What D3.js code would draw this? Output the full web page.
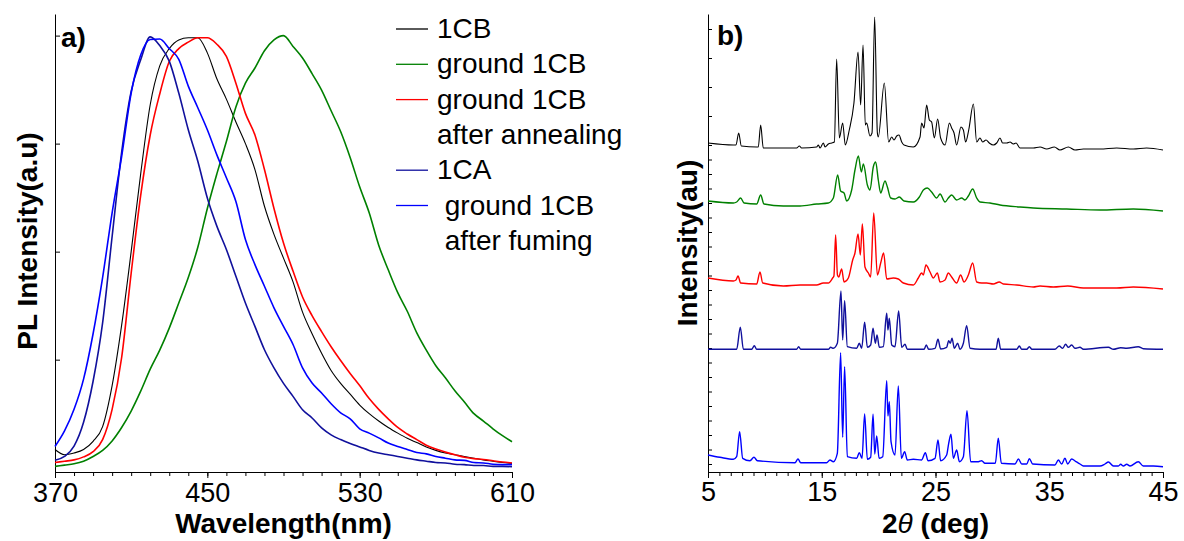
<!DOCTYPE html>
<html>
<head>
<meta charset="utf-8">
<script src="https://cdnjs.cloudflare.com/ajax/libs/d3/7.8.5/d3.min.js"></script>
<style>
  body { margin: 0; background: #fff; }
  text { font-family: "Liberation Sans", Arial, sans-serif; }
</style>
</head>
<body>
<script>
// ---- panel a: PL spectra (normalised) ----
var plWavelength = [370,375,380,385,390,395,400,405,410,415,420,425,430,435,440,445,450,455,460,465,470,475,480,485,490,
                    495,500,505,510,515,520,525,530,535,540,545,550,555,560,565,570,575,580,585,590,595,600,605,610];

var pl1CB     = [0.042,0.030,0.034,0.042,0.061,0.095,0.19,0.33,0.50,0.68,0.84,0.93,0.97,0.99,0.995,0.995,0.96,0.90,0.853,0.80,0.75,0.69,0.605,0.54,0.485,
                 0.43,0.36,0.31,0.265,0.225,0.195,0.17,0.145,0.125,0.108,0.093,0.080,0.068,0.058,0.048,0.040,0.034,0.030,0.026,0.022,0.018,0.015,0.012,0.010];
var plGround  = [0.003,0.006,0.009,0.015,0.026,0.040,0.062,0.093,0.131,0.177,0.228,0.272,0.323,0.381,0.440,0.510,0.600,0.680,0.755,0.835,0.890,0.925,0.965,0.990,1.000,
                 0.975,0.948,0.912,0.874,0.826,0.778,0.718,0.650,0.590,0.515,0.458,0.405,0.362,0.312,0.272,0.236,0.208,0.178,0.152,0.125,0.108,0.090,0.074,0.060];
var plAnneal  = [0.012,0.015,0.018,0.025,0.037,0.065,0.135,0.255,0.45,0.63,0.77,0.865,0.94,0.97,0.985,0.995,0.995,0.98,0.952,0.89,0.82,0.77,0.69,0.60,0.52,
                 0.455,0.395,0.352,0.315,0.28,0.248,0.218,0.19,0.16,0.135,0.113,0.093,0.078,0.065,0.052,0.043,0.036,0.030,0.024,0.021,0.019,0.016,0.013,0.011];
var pl1CA     = [0.017,0.026,0.05,0.105,0.20,0.335,0.535,0.73,0.871,0.944,0.997,0.977,0.941,0.867,0.782,0.709,0.624,0.559,0.505,0.443,0.381,0.327,0.273,0.231,0.195,
                 0.165,0.134,0.115,0.092,0.076,0.065,0.056,0.048,0.040,0.034,0.030,0.026,0.022,0.018,0.015,0.012,0.011,0.008,0.007,0.005,0.005,0.003,0.003,0.002];
var plFumed   = [0.049,0.085,0.135,0.205,0.31,0.44,0.59,0.72,0.867,0.955,0.991,0.992,0.970,0.945,0.883,0.833,0.782,0.724,0.671,0.616,0.528,0.470,0.420,0.370,0.327,
                 0.285,0.231,0.196,0.173,0.148,0.127,0.113,0.09,0.080,0.069,0.057,0.049,0.042,0.035,0.032,0.026,0.022,0.018,0.017,0.012,0.011,0.008,0.007,0.007];

var plSeries  = [pl1CB, plGround, plAnneal, pl1CA, plFumed];
var seriesColors = ["#000000", "#008000", "#ff0000", "#10109c", "#0000ff"];
var legendLabels = [["1CB"], ["ground 1CB"], ["ground 1CB", "after annealing"], ["1CA"], [" ground 1CB", " after fuming"]];
var plMajorTicks = [370, 450, 530, 610];
var plYTicks = [0.25, 0.5, 0.75, 1];

// ---- panel b: XRD patterns, stacked (2theta, intensity au) ----
var xrd1CB = [[5.0,321],[7.23,319],[7.46,319],[7.70,331],[7.93,318],[9.28,317],[9.42,317],[9.63,339],[9.86,316],[12.79,316],[13.03,318],[13.23,316],
  [14.55,317],[14.70,319],[14.85,316],[15.14,321],[15.29,317],[15.58,320],[15.87,321],[16.11,322],[16.31,405],[16.55,326],[16.84,341],[17.07,319],
  [17.42,334],[17.83,361],[18.19,412],[18.42,359],[18.63,419],[18.83,339],[18.95,341],[19.24,328],[19.42,331],[19.65,447],[19.89,331],[19.97,327],
  [20.50,381],[20.88,322],[21.15,327],[21.35,324],[21.59,328],[21.79,329],[22.03,322],[22.23,319],[23.05,317],[23.64,327],[23.78,341],[23.99,336],
  [24.22,359],[24.46,344],[24.66,342],[24.90,326],[25.19,345],[25.45,326],[25.84,319],[26.22,341],[26.42,336],[26.63,331],[26.86,319],[27.24,337],
  [27.45,334],[27.65,322],[27.92,334],[28.33,360],[28.62,322],[28.91,326],[29.15,322],[29.44,324],[29.73,321],[30.08,319],[30.38,321],[30.67,326],
  [30.90,321],[31.26,321],[31.55,322],[31.84,320],[32.08,321],[32.43,316],[33.60,316],[34.19,317],[34.77,315],[35.45,317],[35.94,314],[36.68,317],
  [37.26,314],[38.00,315],[39.46,315],[40.93,316],[42.39,315],[43.56,316],[45.0,314]];

var xrdGround = [[5.0,263],[7.23,261],[7.52,262],[7.87,266],[8.17,261],[9.28,260],[9.63,269],[9.92,260],[11.62,258],[13.09,258],[14.55,260],[15.58,261],
  [16.02,266],[16.40,289],[16.66,273],[16.96,271],[17.19,263],[17.63,274],[17.92,294],[18.22,308],[18.48,292],[18.66,300],[19.01,279],[19.24,274],
  [19.53,297],[19.74,302],[19.97,284],[20.18,271],[20.56,283],[20.77,277],[21.06,266],[21.44,265],[21.82,267],[22.23,263],[23.05,262],[23.58,267],
  [23.93,274],[24.28,276],[24.66,272],[25.10,266],[25.40,270],[25.84,262],[26.13,266],[26.42,269],[26.86,264],[27.30,266],[27.59,264],[27.89,268],
  [28.27,275],[28.62,266],[28.91,262],[29.79,261],[30.67,259],[32.43,257],[33.60,256],[36.53,255],[39.46,254],[42.39,255],[45.0,253]];

var xrdAnneal = [[5.0,186],[7.23,183],[7.46,184],[7.64,188],[7.87,181],[9.28,180],[9.57,192],[9.81,181],[11.62,178],[13.09,179],[14.55,179],[15.14,181],
  [15.58,181],[15.96,186],[16.07,188],[16.22,229],[16.38,189],[16.49,187],[16.75,195],[16.96,182],[17.34,186],[17.72,204],[17.92,211],[18.19,230],
  [18.39,209],[18.57,240],[18.80,197],[19.10,191],[19.30,187],[19.57,251],[19.89,189],[20.18,201],[20.44,211],[20.71,185],[21.29,186],[21.73,185],
  [22.17,181],[23.05,179],[23.49,186],[23.78,191],[23.93,189],[24.16,199],[24.52,192],[24.81,186],[25.16,191],[25.40,182],[25.84,184],[26.13,191],
  [26.42,187],[26.86,181],[27.21,189],[27.51,182],[27.89,189],[28.27,201],[28.62,182],[29.06,181],[29.50,181],[30.08,180],[30.61,182],[30.96,180],
  [32.14,179],[33.60,177],[34.19,178],[35.36,177],[36.62,178],[38.00,176],[40.93,176],[42.39,177],[45.0,175]];

var xrd1CA = [[5.0,114.7],[7.52,114.7],[7.84,136.7],[8.11,114.7],[8.84,114.7],[9.07,118.3],[9.28,114.7],[12.79,114.7],[12.97,117.3],[13.15,114.7],
  [15.58,114.7],[15.78,116.7],[16.02,115.7],[16.37,120.7],[16.69,173],[16.84,124],[17.01,163.3],[17.25,117.3],[18.07,115.7],[18.30,120.7],[18.51,115.7],
  [18.77,141.7],[19.01,116.7],[19.30,119],[19.51,135.7],[19.71,120.7],[19.86,129],[20.06,116.7],[20.41,117.3],[20.71,150.7],[20.82,134],[20.94,145.7],
  [21.15,119],[21.44,117.3],[21.76,153],[22.03,116.7],[22.32,119.7],[22.52,114.7],[23.99,114.7],[24.19,119],[24.40,114.7],[24.96,115.7],[25.22,124.7],
  [25.45,115],[25.98,116.7],[26.16,123.3],[26.30,120.7],[26.45,125.7],[26.66,115.7],[26.95,120.7],[27.15,114.7],[27.45,120.7],[27.74,138.3],[28.04,115.7],
  [28.91,114.7],[30.32,114.7],[30.52,125.7],[30.73,114.7],[32.14,114.7],[32.37,118],[32.58,114.7],[33.02,114.7],[33.25,117.3],[33.48,114.7],[35.50,114.7],
  [35.88,118],[36.18,115.7],[36.44,119.7],[36.68,116.7],[36.97,119],[37.26,115.7],[37.70,116.7],[38.00,114.7],[40.20,116.7],[40.64,114.7],[41.28,116.3],
  [41.81,115.7],[42.83,117.3],[43.27,115.3],[45.0,114.7]];

var xrdFumed = [[5.0,9],[6.05,6.7],[7.23,4.7],[7.52,7.3],[7.78,32.3],[8.05,5.7],[8.69,3.3],[9.04,6.7],[9.34,3.3],[12.65,1.3],[12.91,5],[13.15,1.3],
  [15.43,1.3],[15.72,4],[16.02,2.3],[16.37,10.7],[16.66,111.3],[16.84,26.7],[17.01,97.3],[17.25,7.3],[18.07,5.7],[18.30,11.3],[18.54,5.7],[18.77,50],
  [19.01,4.7],[19.30,6.7],[19.51,49.7],[19.66,10],[19.83,28],[20.04,5.7],[20.36,7.3],[20.71,83.3],[20.82,48],[20.94,62.3],[21.09,22.3],[21.44,9],
  [21.73,78],[22.00,5.7],[22.29,12.3],[22.52,4],[23.05,4.7],[23.78,4],[24.11,11.3],[24.34,3.3],[24.96,5.7],[25.22,24],[25.45,3.3],[25.98,9],[26.16,20.7],
  [26.36,29.7],[26.57,5.7],[26.86,14],[27.10,2.3],[27.45,7.3],[27.77,53.3],[28.09,2.3],[28.77,2.3],[29.06,3.3],[29.35,0.7],[30.26,0.7],[30.52,25.7],
  [30.79,0.7],[31.99,0],[32.29,5],[32.58,0],[33.02,0],[33.25,5.3],[33.54,0],[35.50,-1],[35.80,4],[36.09,0],[36.38,5.7],[36.62,0],[36.97,5],[37.35,2.3],
  [37.70,0],[38.00,-2],[39.46,-2],[39.90,0],[40.20,2],[40.64,-2],[41.08,-2],[41.28,-0.3],[41.52,-2],[41.81,-0.3],[42.10,-2],[42.83,2.3],[43.27,-2],
  [44.15,-2],[45.0,-2.7]];

var xrdSeries = [xrd1CB, xrdGround, xrdAnneal, xrd1CA, xrdFumed];
var xrdMajorTicks = [5, 15, 25, 35, 45];
var xrdYTicks = [0,14.5,29,43.5,58,72.5,87,101.5,116,130.5,145,159.5,174,188.5,203,217.5,232,246.5,261,275.5,290,304.5,319,348,377,406,435];

var width = 1184, height = 541;

var svg = d3.select("body").append("svg")
    .attr("width", width)
    .attr("height", height);

function styleAxis(g, fs) {
  g.selectAll("path, line").attr("stroke", "#000").attr("stroke-width", 1);
  g.attr("font-size", fs).attr("font-family", "'Liberation Sans', Arial, sans-serif");
  g.selectAll("text").attr("fill", "#000");
}

// minor ticks only: drop the empty labels
function noLabels(g) {
  g.selectAll("text").remove();
}

// ================= panel a =================
var xA = d3.scaleLinear().domain([370, 610]).range([55, 512]);
var yA = d3.scaleLinear().domain([-0.01, 1.05]).range([472, 14]);

svg.append("g")
    .attr("transform", "translate(0,472)")
    .call(d3.axisBottom(xA).ticks(24).tickSize(4).tickSizeOuter(0))
    .call(styleAxis, 27)
    .call(noLabels);

svg.append("g")
    .attr("transform", "translate(0,472)")
    .call(d3.axisBottom(xA).tickValues(plMajorTicks).tickSize(6).tickSizeOuter(0).tickPadding(5))
    .call(styleAxis, 27);

svg.append("g")
    .attr("transform", "translate(55,0)")
    .call(d3.axisRight(yA).tickValues(plYTicks).tickSize(5).tickSizeOuter(0))
    .call(styleAxis, 27)
    .call(noLabels);

var plLine = d3.line()
    .x(function(d, i) { return xA(plWavelength[i]); })
    .y(function(d) { return yA(d); })
    .curve(d3.curveMonotoneX);

svg.selectAll(".pl")
    .data(plSeries)
  .enter().append("path")
    .attr("class", "pl")
    .attr("fill", "none")
    .attr("stroke", function(d, i) { return seriesColors[i]; })
    .attr("stroke-width", function(d, i) { return i == 0 ? 1.1 : 1.6; })
    .attr("d", plLine);

// legend
var row = 0;
legendLabels.forEach(function(lines, i) {
  var base = 38 + row * 35.3;
  svg.append("line")
      .attr("x1", 396).attr("x2", 428)
      .attr("y1", base - 9).attr("y2", base - 9)
      .attr("stroke", seriesColors[i])
      .attr("stroke-width", 1.3);
  lines.forEach(function(t, j) {
    svg.append("text")
        .attr("x", 437)
        .attr("y", base + j * 35.3)
        .attr("font-size", 28)
        .style("white-space", "pre")
        .text(t);
  });
  row += lines.length;
});

svg.append("text")
    .attr("x", 61).attr("y", 47)
    .attr("font-size", 28).attr("font-weight", "bold")
    .text("a)");

svg.append("text")
    .attr("x", (55 + 512) / 2).attr("y", 533)
    .attr("text-anchor", "middle")
    .attr("font-size", 28).attr("font-weight", "bold")
    .text("Wavelength(nm)");

svg.append("text")
    .attr("transform", "translate(37,241) rotate(-90)")
    .attr("text-anchor", "middle")
    .attr("font-size", 28).attr("font-weight", "bold")
    .text("PL Intensity(a.u)");

// ================= panel b =================
var xB = d3.scaleLinear().domain([5, 45]).range([708, 1163]);
var yB = d3.scaleLinear().domain([-8, 450]).range([472, 14]);

svg.append("g")
    .attr("transform", "translate(0,472)")
    .call(d3.axisBottom(xB).ticks(40).tickSize(4).tickSizeOuter(0))
    .call(styleAxis, 27)
    .call(noLabels);

svg.append("g")
    .attr("transform", "translate(0,472)")
    .call(d3.axisBottom(xB).tickValues(xrdMajorTicks).tickSize(6).tickSizeOuter(0).tickPadding(4))
    .call(styleAxis, 27);

svg.append("g")
    .attr("transform", "translate(708,0)")
    .call(d3.axisRight(yB).tickValues(xrdYTicks).tickSize(4).tickSizeOuter(0))
    .call(styleAxis, 27)
    .call(noLabels);

var xrdLine = d3.line()
    .x(function(d) { return xB(d[0]); })
    .y(function(d) { return yB(d[1]); })
    .curve(d3.curveMonotoneX);

svg.selectAll(".xrd")
    .data(xrdSeries)
  .enter().append("path")
    .attr("class", "xrd")
    .attr("fill", "none")
    .attr("stroke", function(d, i) { return seriesColors[i]; })
    .attr("stroke-width", function(d, i) { return i == 0 ? 1.1 : 1.4; })
    .attr("stroke-linejoin", "round")
    .attr("d", xrdLine);

svg.append("text")
    .attr("x", 717).attr("y", 45)
    .attr("font-size", 28).attr("font-weight", "bold")
    .text("b)");

var xt = svg.append("text")
    .attr("x", (708 + 1163) / 2).attr("y", 533)
    .attr("text-anchor", "middle")
    .attr("font-size", 28)
    .style("white-space", "pre");
xt.append("tspan").attr("font-weight", "bold").text("2");
xt.append("tspan").attr("font-style", "italic").text("\u03b8");
xt.append("tspan").attr("font-weight", "bold").text(" (deg)");

svg.append("text")
    .attr("transform", "translate(697,243) rotate(-90)")
    .attr("text-anchor", "middle")
    .attr("font-size", 28).attr("font-weight", "bold")
    .text("Intensity(au)");
</script>
</body>
</html>
